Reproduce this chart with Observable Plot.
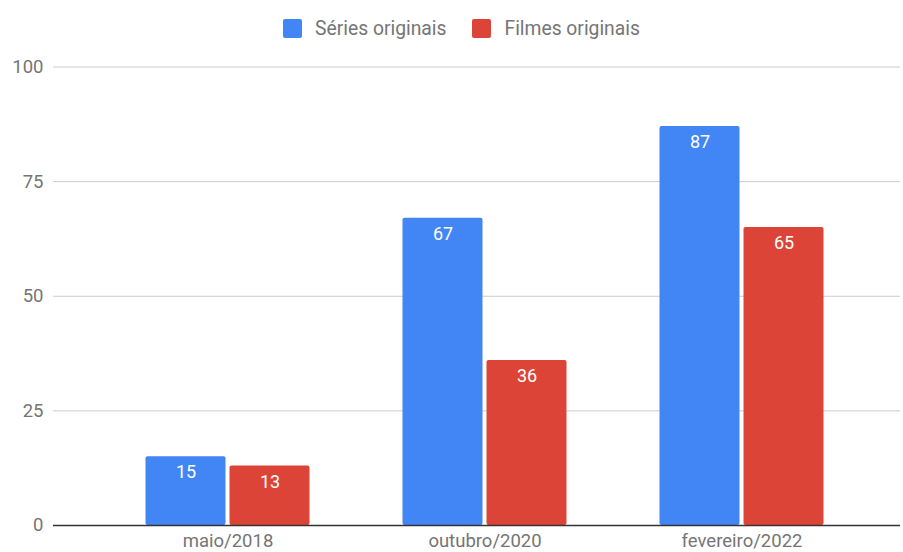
<!DOCTYPE html>
<html>
<head>
<meta charset="utf-8">
<script src="https://cdn.jsdelivr.net/npm/d3@7"></script>
<script src="https://cdn.jsdelivr.net/npm/@observablehq/plot@0.6"></script>
<style>
  html, body { margin: 0; padding: 0; background: #fff; }
  body { width: 903px; height: 552px; overflow: hidden; font-family: Roboto, sans-serif; }
  #legend { height: 46px; display: flex; justify-content: center; align-items: flex-start; padding-left: 46px; box-sizing: border-box; }
  .item { display: flex; align-items: center; margin-top: 17px; font-size: 19.3px; color: #757575; margin-right: 26px; }
  .sw { width: 19px; height: 19px; border-radius: 2px; margin-right: 13px; }
  #chart svg { display: block; }
</style>
</head>
<body>
<div id="legend"></div>
<div id="chart"></div>
<script>
const categories = ["maio/2018", "outubro/2020", "fevereiro/2022"];
const seriesNames = ["Séries originais", "Filmes originais"];
const seriesValues = [15, 67, 87];
const filmesValues = [13, 36, 65];
const yTicks = [0, 25, 50, 75, 100];
const colors = ["#4285F4", "#DB4437"];

const data = [];
categories.forEach((c, i) => {
  data.push({cat: c, series: seriesNames[0], value: seriesValues[i]});
  data.push({cat: c, series: seriesNames[1], value: filmesValues[i]});
});

const legend = document.getElementById("legend");
seriesNames.forEach((s, i) => {
  const it = document.createElement("div");
  it.className = "item";
  const sw = document.createElement("div");
  sw.className = "sw";
  sw.style.background = colors[i];
  it.appendChild(sw);
  it.appendChild(document.createTextNode(s));
  legend.appendChild(it);
});

const W = 903, H = 506;
const half = 128.5;
const inner = 2, outer = 46.5;
const blue = data.filter(d => d.series === seriesNames[0]);
const red = data.filter(d => d.series === seriesNames[1]);

const plot = Plot.plot({
  width: W,
  height: H,
  marginTop: 20.5,
  marginBottom: 27,
  marginLeft: 53,
  marginRight: 3,
  style: {fontFamily: "Roboto, sans-serif", fontSize: "18px", color: "#757575", background: "#fff", overflow: "visible"},
  x: {domain: categories, range: [98.5, 869.5], padding: 0, label: null},
  y: {domain: [0, 100], label: null},
  color: {domain: seriesNames, range: colors},
  marks: [
    Plot.ruleY(yTicks.filter(t => t > 0), {stroke: "#cccccc", strokeWidth: 1}),
    Plot.barY(blue, {x: "cat", y: "value", fill: d => d.series, insetLeft: outer, insetRight: half + inner, rx: 2}),
    Plot.barY(red, {x: "cat", y: "value", fill: d => d.series, insetLeft: half + inner, insetRight: outer, rx: 2}),
    Plot.text(blue, {x: "cat", y: "value", text: d => String(d.value), dx: -42, dy: 16, fill: "white", fontSize: 18}),
    Plot.text(red, {x: "cat", y: "value", text: d => String(d.value), dx: 42, dy: 16, fill: "white", fontSize: 18}),
    Plot.ruleY([0], {stroke: "#333333", strokeWidth: 1.3}),
    Plot.axisY({ticks: yTicks, tickSize: 0, tickPadding: 10, fontSize: 18.5, fill: "#757575"}),
    Plot.axisX({tickSize: 0, tickPadding: 8, fontSize: 18.5, fill: "#757575"})
  ]
});
document.getElementById("chart").appendChild(plot);
</script>
</body>
</html>
